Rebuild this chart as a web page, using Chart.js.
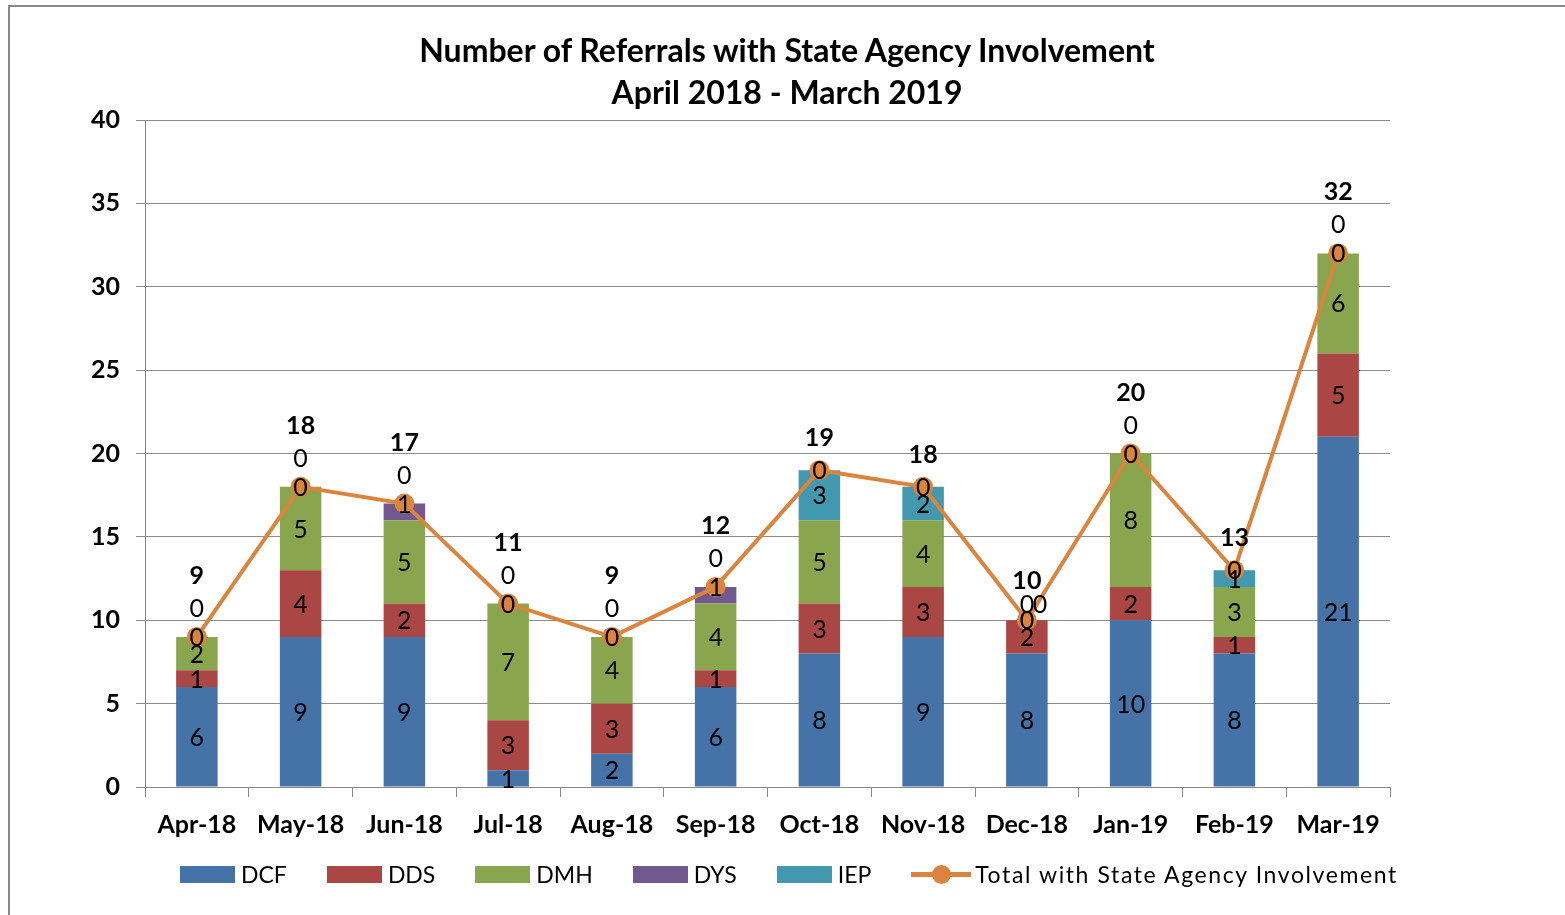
<!DOCTYPE html>
<html>
<head>
<meta charset="utf-8">
<script src="https://cdn.jsdelivr.net/npm/chart.js@4"></script>
<style>
  html, body { margin: 0; padding: 0; background: #fff; overflow: hidden; }
  #wrap { position: relative; width: 1565px; height: 915px; }
  #frame { position: absolute; left: 8px; top: 5px; width: 1600px; height: 940px;
           border: 2px solid #8a8a8a; box-sizing: border-box; }
  #title { position: absolute; left: 0; top: 29px; width: 1574px; text-align: center;
           font: bold 32px Lato, sans-serif; line-height: 42px; color: #000; }
  #legend { position: absolute; left: 180px; top: 860px; display: flex; align-items: center;
            font: 23px Lato, sans-serif; color: #000; white-space: nowrap; }
  .item { display: flex; align-items: center; margin-right: 40px; }
  .box { width: 55px; height: 17px; margin-right: 6px; }
  .ln { position: relative; width: 60px; height: 5px; margin-right: 4px; }
  .ln i { position: absolute; left: 21px; top: -7px; width: 19px; height: 19px; border-radius: 50%; }
  .wide { letter-spacing: 1.6px; }
  canvas { position: absolute; left: 0; top: 0; }
</style>
</head>
<body>
<div id="wrap">
  <div id="frame"></div>
  <canvas id="chart" width="1565" height="915"></canvas>
  <div id="title">Number of Referrals with State Agency Involvement<br>April 2018 - March 2019</div>
  <div id="legend"></div>
</div>
<script>
const months = ["Apr-18", "May-18", "Jun-18", "Jul-18", "Aug-18", "Sep-18",
  "Oct-18", "Nov-18", "Dec-18", "Jan-19", "Feb-19", "Mar-19"];
const dcf = [6, 9, 9, 1, 2, 6, 8, 9, 8, 10, 8, 21];
const dds = [1, 4, 2, 3, 3, 1, 3, 3, 2, 2, 1, 5];
const dmh = [2, 5, 5, 7, 4, 4, 5, 4, 0, 8, 3, 6];
const dys = [0, 0, 1, 0, 0, 1, 0, 0, 0, 0, 0, 0];
const iep = [0, 0, 0, 0, 0, 0, 3, 2, 0, 0, 1, 0];
const totals = [9, 18, 17, 11, 9, 12, 19, 18, 10, 20, 13, 32];

const series = [
  { name: "DCF", values: dcf, color: "#4572A7" },
  { name: "DDS", values: dds, color: "#AA4643" },
  { name: "DMH", values: dmh, color: "#89A54E" },
  { name: "DYS", values: dys, color: "#71588F" },
  { name: "IEP", values: iep, color: "#4198AF" },
];
const totalName = "Total with State Agency Involvement";
const totalColor = "#DB843D";

// labels drawn on the segments, Excel style
const segLabels = {
  id: "segLabels",
  afterDatasetsDraw(chart) {
    const ctx = chart.ctx;
    const y = chart.scales.y;
    const meta = chart.getDatasetMeta(1);
    ctx.save();
    ctx.textAlign = "center";
    ctx.textBaseline = "middle";
    ctx.fillStyle = "#000";
    months.forEach((m, i) => {
      const x = meta.data[i].x;
      const top = y.getPixelForValue(totals[i]);
      let base = 0;
      const topLabels = [];
      ctx.font = "25px Lato";
      series.forEach(s => {
        const v = s.values[i];
        if (v > 0 && s.name !== "DYS") {
          ctx.fillText(String(v), x, y.getPixelForValue(base + v / 2) + 1);
        } else {
          topLabels.push(v);
        }
        base += v;
      });
      // crowded bars get tighter rows
      const gap = topLabels.length > 2 ? 16 : 29;
      let lastY = top;
      topLabels.forEach((v, k) => {
        const row = Math.min(k, 1);
        const dx = k > 1 ? 13 : 0;
        lastY = top + 1 - gap * row;
        ctx.fillText(String(v), x + dx, lastY);
      });
      ctx.font = "bold 25px Lato";
      ctx.fillText(String(totals[i]), x, lastY - (gap > 16 ? 33 : 24));
    });
    ctx.restore();
  }
};

const datasets = [{
  type: "line",
  label: totalName,
  data: totals,
  stack: "total",
  borderColor: totalColor,
  backgroundColor: totalColor,
  borderWidth: 4,
  pointRadius: 10,
  pointHoverRadius: 10,
  pointBackgroundColor: totalColor,
  pointBorderWidth: 0,
  order: 0,
}];
series.forEach(s => datasets.push({
  type: "bar",
  label: s.name,
  data: s.values,
  stack: "agencies",
  backgroundColor: s.color,
  barPercentage: 0.4,
  categoryPercentage: 1,
  order: 1,
}));

new Chart(document.getElementById("chart"), {
  data: { labels: months, datasets: datasets },
  options: {
    responsive: false,
    animation: false,
    layout: { padding: { left: 0, right: 175, top: 120, bottom: 68 } },
    plugins: { legend: { display: false }, title: { display: false }, tooltip: { enabled: false } },
    scales: {
      x: {
        stacked: true,
        afterFit: s => { s.height = 60; },
        grid: { display: true, drawOnChartArea: false, offset: true, tickLength: 10, color: "#888" },
        border: { color: "#888" },
        ticks: { color: "#000", font: { family: "Lato", size: 25, weight: "bold" }, padding: 13 },
      },
      y: {
        stacked: true,
        min: 0,
        max: 40,
        afterFit: s => { s.width = 145; },
        grid: { color: "#8c8c8c", tickLength: 9 },
        border: { color: "#888" },
        ticks: { stepSize: 5, color: "#000", font: { family: "Lato", size: 25, weight: "bold" }, padding: 16 },
      }
    }
  },
  plugins: [segLabels]
});

// legend
const legend = document.getElementById("legend");
series.forEach(s => {
  const it = document.createElement("div");
  it.className = "item";
  it.innerHTML = '<span class="box" style="background:' + s.color + '"></span>' + s.name;
  legend.appendChild(it);
});
const lt = document.createElement("div");
lt.className = "item";
lt.innerHTML = '<span class="ln" style="background:' + totalColor + '"><i style="background:' +
  totalColor + '"></i></span><span class="wide">' + totalName + '</span>';
legend.appendChild(lt);
</script>
</body>
</html>
